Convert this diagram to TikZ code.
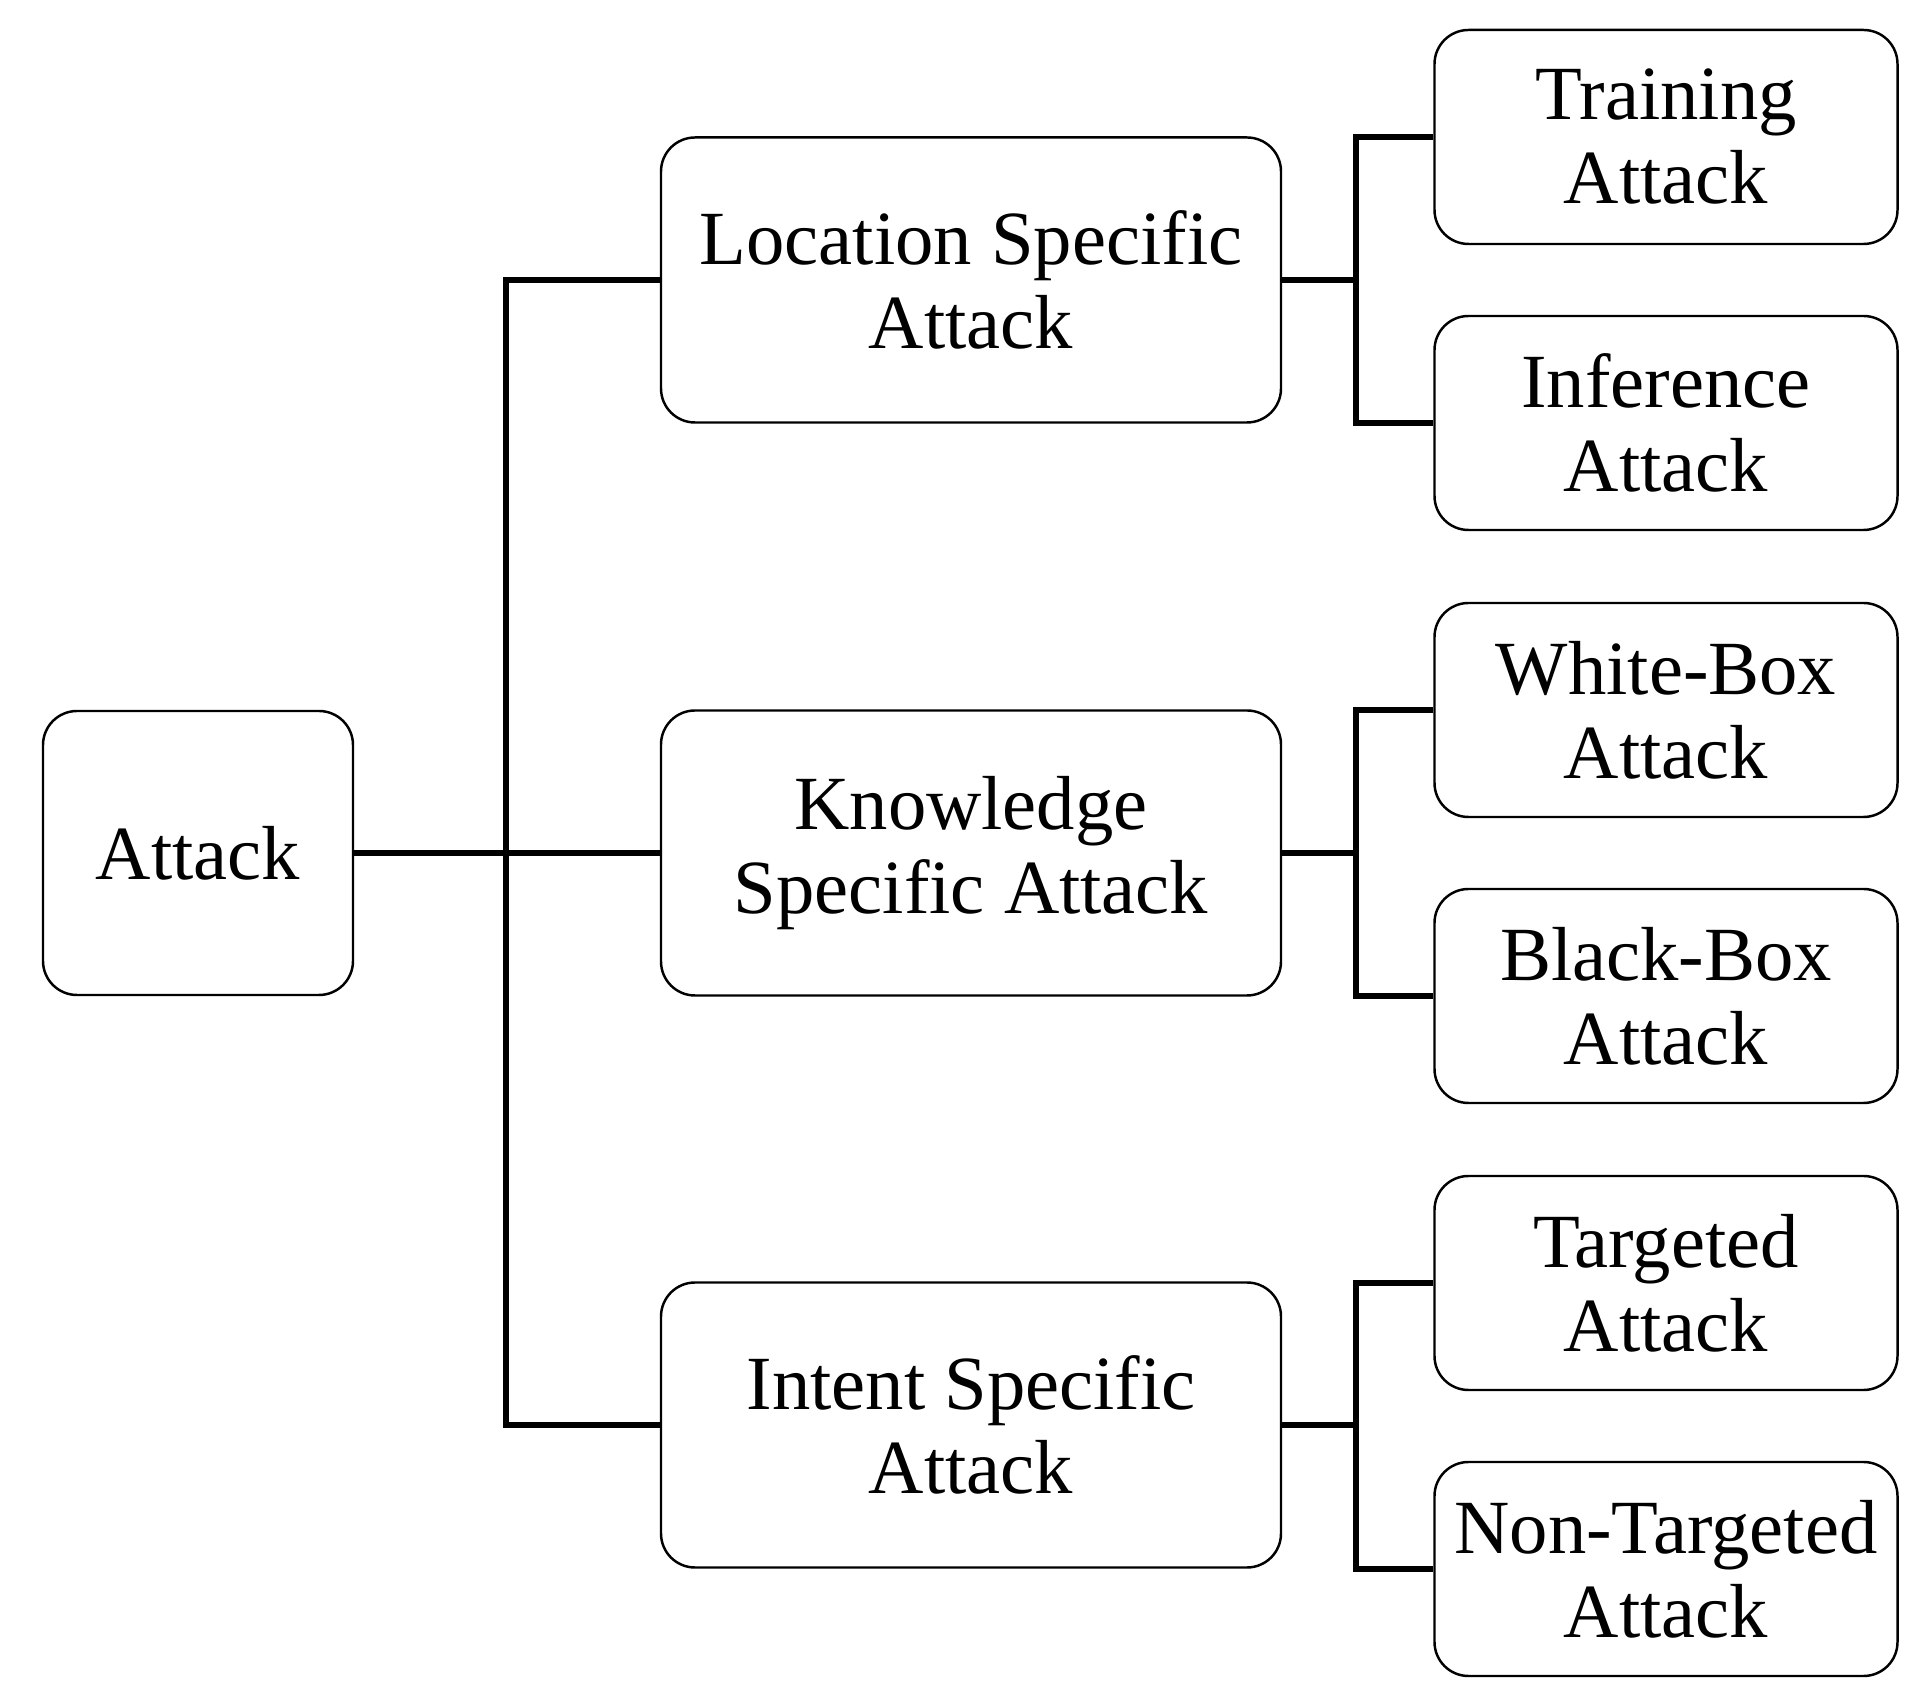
\documentclass[tikz,border=0pt]{standalone}
\usepackage{fontspec}
\setmainfont{Liberation Serif}
\usepackage{tikz}

\tikzset{
  box/.style={draw, line width=0.7pt, rounded corners=0.34cm, align=center,
    inner sep=0pt, font=\fontsize{21.8}{23.9}\selectfont},
  rootbox/.style={box, minimum width=3.10cm, minimum height=2.84cm},
  midbox/.style={box, minimum width=6.20cm, minimum height=2.85cm},
  leafbox/.style={box, minimum width=4.63cm, minimum height=2.14cm},
  link/.style={line width=1.6pt}
}

\begin{document}
\begin{tikzpicture}
  \useasboundingbox (0,0) rectangle (19.31,17.03);
  \node[rootbox] (attack) at (1.98, 8.50) {Attack};
  \node[midbox] (loc) at (9.71, 14.23) {Location Specific\\Attack};
  \node[midbox] (know) at (9.71, 8.50) {Knowledge\\Specific Attack};
  \node[midbox] (intent) at (9.71, 2.78) {Intent Specific\\Attack};
  \node[leafbox] (train) at (16.66, 15.66) {Training\\Attack};
  \node[leafbox] (infer) at (16.66, 12.80) {Inference\\Attack};
  \node[leafbox] (white) at (16.66, 9.93) {White-Box\\Attack};
  \node[leafbox] (black) at (16.66, 7.07) {Black-Box\\Attack};
  \node[leafbox] (target) at (16.66, 4.20) {Targeted\\Attack};
  \node[leafbox] (nontarget) at (16.66, 1.34) {Non-Targeted\\Attack};
  \coordinate (j0) at (5.06, 8.50);
  \coordinate (j1) at (13.56, 14.23);
  \coordinate (j2) at (13.56, 8.50);
  \coordinate (j3) at (13.56, 2.78);
  \draw[link] (attack.east) -- (know.west);
  \draw[link] (loc.west) -| (j0) |- (intent.west);
  \draw[link] (loc.east) -- (j1);
  \draw[link] (know.east) -- (j2);
  \draw[link] (intent.east) -- (j3);
  \draw[link] (train.west) -| (j1) |- (infer.west);
  \draw[link] (white.west) -| (j2) |- (black.west);
  \draw[link] (target.west) -| (j3) |- (nontarget.west);
\end{tikzpicture}
\end{document}
